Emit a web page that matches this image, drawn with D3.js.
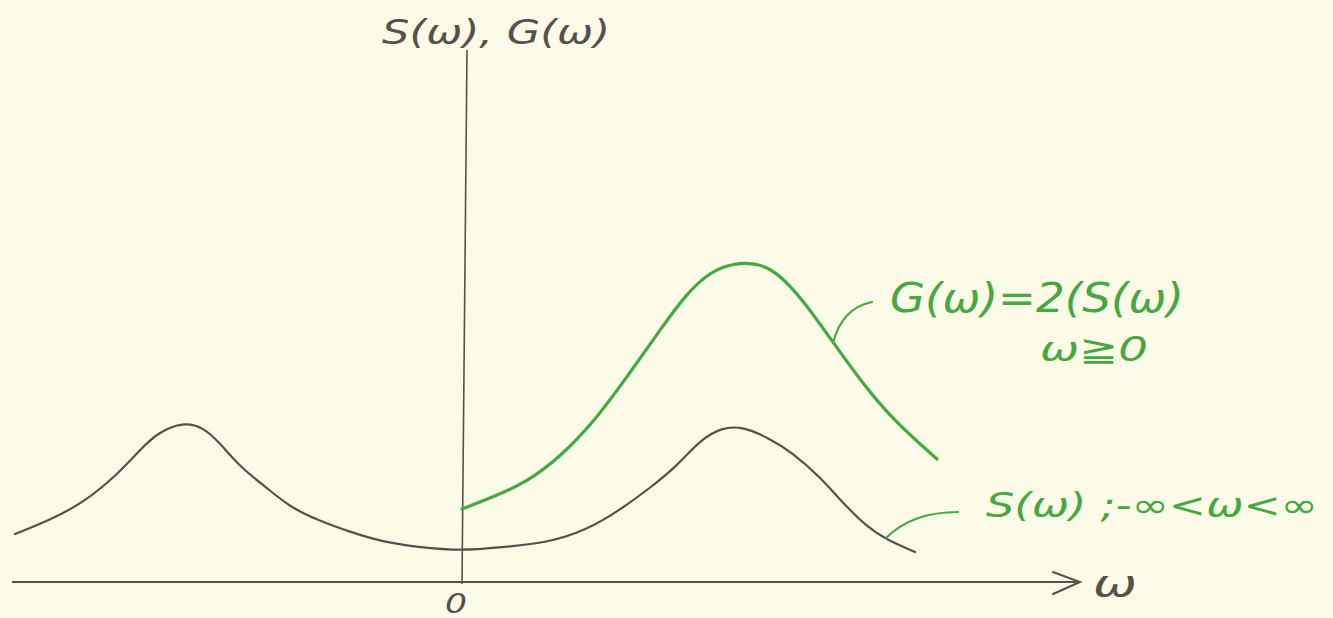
<!DOCTYPE html>
<html>
<head>
<meta charset="utf-8">
<script src="https://cdn.jsdelivr.net/npm/d3@7"></script>
<style>
  html, body { margin: 0; padding: 0; background: #fbfbe8; }
  svg { display: block; }
</style>
</head>
<body>
<svg id="chart" width="1333" height="618"></svg>
<script>
// ω values and curve values (arbitrary units)
const omegaS = [-4.47, -4.12, -3.79, -3.45, -3.22, -3.05, -2.79, -2.59, -2.42, -2.22, -1.95, -1.72,
                -1.45, -1.12, -0.79, -0.45, 0, 0.41, 0.85, 1.25, 1.58, 1.88, 2.15, 2.38, 2.61,
                2.81, 3.05, 3.31, 3.58, 3.81, 4.05, 4.25, 4.53];
const valuesS = [0.48, 0.62, 0.79, 1.07, 1.32, 1.49, 1.60, 1.55, 1.39, 1.15, 0.94, 0.75,
                 0.62, 0.50, 0.40, 0.35, 0.31, 0.35, 0.39, 0.52, 0.72, 0.94, 1.16, 1.42, 1.55,
                 1.55, 1.45, 1.29, 1.05, 0.79, 0.55, 0.42, 0.30];
const omegaG = [0, 0.31, 0.65, 0.98, 1.31, 1.65, 1.98, 2.25, 2.48, 2.71, 2.98, 3.18, 3.41,
                3.68, 3.98, 4.31, 4.75];
const valuesG = [0.73, 0.85, 1.00, 1.25, 1.59, 2.05, 2.52, 2.89, 3.10, 3.19, 3.19, 3.07, 2.82,
                 2.44, 2.02, 1.62, 1.23];
const labelY = "S(ω), G(ω)";
const labelX = "ω";
const labelZero = "0";
const labelG1 = "G(ω)=2(S(ω)";
const labelG2 = "ω≧0";
const labelS = "S(ω) ;-∞<ω<∞";

const svg = d3.select("#chart");
const ink = "#57514c";
const green = "#45a843";
const font = "'DejaVu Sans', sans-serif";

const x = d3.scaleLinear().domain([-4.5, 6.2]).range([12, 1082]);
const y = d3.scaleLinear().domain([0, 5.4]).range([582, 42]);

// axes
svg.append("line").attr("x1", x(-4.5)).attr("y1", y(0)).attr("x2", x(6.18)).attr("y2", y(0))
  .attr("stroke", ink).attr("stroke-width", 2);
svg.append("path")
  .attr("d", `M${x(5.91)},${y(0) - 10} L${x(6.18)},${y(0)} L${x(5.91)},${y(0) + 12}`)
  .attr("fill", "none").attr("stroke", ink).attr("stroke-width", 2).attr("stroke-linecap", "round");
svg.append("line").attr("x1", x(0.05)).attr("y1", y(5.32)).attr("x2", x(0)).attr("y2", y(-0.02))
  .attr("stroke", ink).attr("stroke-width", 1.6);

// curves
const line = d3.line().x(d => x(d[0])).y(d => y(d[1])).curve(d3.curveBasis);
svg.append("path").datum(d3.zip(omegaS, valuesS)).attr("d", line)
  .attr("fill", "none").attr("stroke", ink).attr("stroke-width", 2.2).attr("stroke-linecap", "round");
svg.append("path").datum(d3.zip(omegaG, valuesG)).attr("d", line)
  .attr("fill", "none").attr("stroke", green).attr("stroke-width", 3.2).attr("stroke-linecap", "round");

// leaders
svg.append("path").attr("d", "M833,343 Q842,308 872,302")
  .attr("fill", "none").attr("stroke", green).attr("stroke-width", 2.2).attr("stroke-linecap", "round");
svg.append("path").attr("d", "M886,538 Q912,512 958,512")
  .attr("fill", "none").attr("stroke", green).attr("stroke-width", 2.2).attr("stroke-linecap", "round");

// texts
function txt(s, px, py, len, size, color) {
  svg.append("text").attr("x", px).attr("y", py).text(s)
    .attr("font-family", font).attr("font-size", size).attr("fill", color)
    .attr("font-style", "italic")
    .attr("textLength", len).attr("lengthAdjust", "spacingAndGlyphs");
}
txt(labelY, 382, 44, 228, 34, ink);
txt(labelX, 1093, 596, 44, 38, ink);
txt(labelZero, 445, 613, 22, 26, ink);
txt(labelG1, 890, 312, 294, 40, green);
txt(labelG2, 1040, 361, 108, 34, green);
txt(labelS, 986, 517, 332, 34, green);
</script>
</body>
</html>
